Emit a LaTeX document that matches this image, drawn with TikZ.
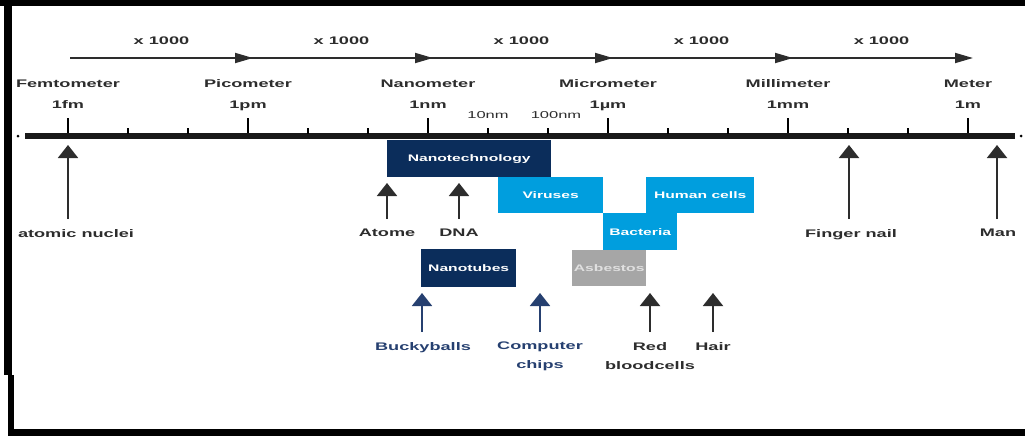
\documentclass[tikz,border=0pt]{standalone}
\usepackage{fontspec}
\setmainfont{Liberation Sans}[FakeStretch=1.65]
\usetikzlibrary{arrows.meta}

\definecolor{navy}{RGB}{11,45,91}
\definecolor{skyblue}{RGB}{0,158,222}
\definecolor{asbgray}{RGB}{166,166,166}
\definecolor{inkgray}{RGB}{45,45,45}
\definecolor{inkblue}{RGB}{38,64,112}

\tikzset{
  unitname/.style={font=\bfseries\fontsize{11}{13}\selectfont, text=inkgray, inner sep=0pt, anchor=base},
  smallval/.style={font=\fontsize{10}{12}\selectfont, text=inkgray, inner sep=0pt, anchor=base},
  thing/.style={font=\bfseries\fontsize{11}{19}\selectfont, text=inkgray, inner sep=0pt, anchor=north, align=center},
  sizebox/.style={font=\bfseries\fontsize{9.5}{11}\selectfont, text=white, anchor=north west, inner sep=0pt},
  uparrow/.style={line width=2pt, shorten <=10pt, -{Triangle[width=20pt,length=13pt]}},
  steparrow/.style={draw=inkgray, fill=inkgray, line width=1.8pt, -{Triangle[width=10pt,length=18pt]}}
}

\begin{document}
\begin{tikzpicture}[x=1pt,y=-1pt]
  \useasboundingbox (0,0) rectangle (1025,436);

  % Frame
  \fill (0,0) rectangle (1025,6);
  \fill (4,0) rectangle (12,375);
  \fill (8,375) rectangle (14,436);
  \fill (8,429) rectangle (1025,436);

  % Axis
  \draw[line width=6pt, black!90] (25,136) -- (1015,136);
  \fill (18,136) circle (1.5pt);
  \fill (1021,136) circle (1.5pt);

  % Minor ticks
  \foreach \x in {128,188,308,368,488,548,668,728,848,908}
    \draw[line width=1.2pt] (\x,128) -- (\x,134);

  % Units and major ticks
  \foreach \i/\short/\name/\val in {0/fm/Femtometer/1fm,1/pm/Picometer/1pm,2/nm/Nanometer/1nm,
      3/um/Micrometer/1µm,4/mm/Millimeter/1mm,5/m/Meter/1m} {
    \coordinate (\short) at (68+180*\i,118);
    \draw[line width=1.2pt] (\short) -- ++(0,15);
    \node[unitname] (\short-name) at (68+180*\i,88) {\name};
    \node[unitname] (\short-val) at (68+180*\i,108) {\val};
  }

  % Factor arrows
  \foreach \a/\b in {fm/pm,pm/nm,nm/um,um/mm,mm/m}
    \draw[steparrow] ([shift={(2,-60)}]\a) -- ([shift={(5,-60)}]\b)
      node[unitname, midway, yshift=13pt] (x-\a) {x 1000};

  % Sub-scale values
  \node[smallval] (ten) at (488,118) {10nm};
  \node[smallval] (hundred) at (556,118) {100nm};

  % Size ranges
  \node[sizebox, fill=navy, minimum width=164pt, minimum height=37pt] (nanotech) at (387,140) {Nanotechnology};
  \node[sizebox, fill=skyblue, minimum width=105pt, minimum height=36pt] (viruses) at (498,177) {Viruses};
  \node[sizebox, fill=skyblue, minimum width=108pt, minimum height=36pt] (cells) at (646,177) {Human cells};
  \node[sizebox, fill=skyblue, minimum width=74pt, minimum height=37pt] (bacteria) at (603,213) {Bacteria};
  \node[sizebox, fill=asbgray, text=white!88!black, minimum width=74pt, minimum height=36pt] (asbestos) at (572,250) {Asbestos};
  \node[sizebox, fill=navy, minimum width=95pt, minimum height=38pt] (nanotubes) at (421,249) {Nanotubes};

  % Objects
  \node[thing] (nuclei) at (76,229) {atomic nuclei};
  \node[thing] (atome) at (387,229) {Atome};
  \node[thing] (dna) at (459,229) {DNA};
  \node[thing] (nail) at (851,229) {Finger nail};
  \node[thing] (man) at (998,229) {Man};
  \node[thing, text=inkblue] (bucky) at (423,342) {Buckyballs};
  \node[thing, text=inkblue] (chips) at (540,342) {Computer\\chips};
  \node[thing] (blood) at (650,342) {Red\\bloodcells};
  \node[thing] (hair) at (713,342) {Hair};

  % Pointers
  \foreach \n/\x/\y/\c in {nuclei/68/145/inkgray,atome/387/183/inkgray,dna/459/183/inkgray,
      nail/849/145/inkgray,man/997/145/inkgray,bucky/422/293/inkblue,chips/540/293/inkblue,
      blood/650/293/inkgray,hair/713/293/inkgray} {
    \coordinate (\n-tip) at (\x,\y);
    \draw[uparrow, draw=\c, fill=\c] (\n-tip |- \n.north) -- (\n-tip);
  }
\end{tikzpicture}
\end{document}
